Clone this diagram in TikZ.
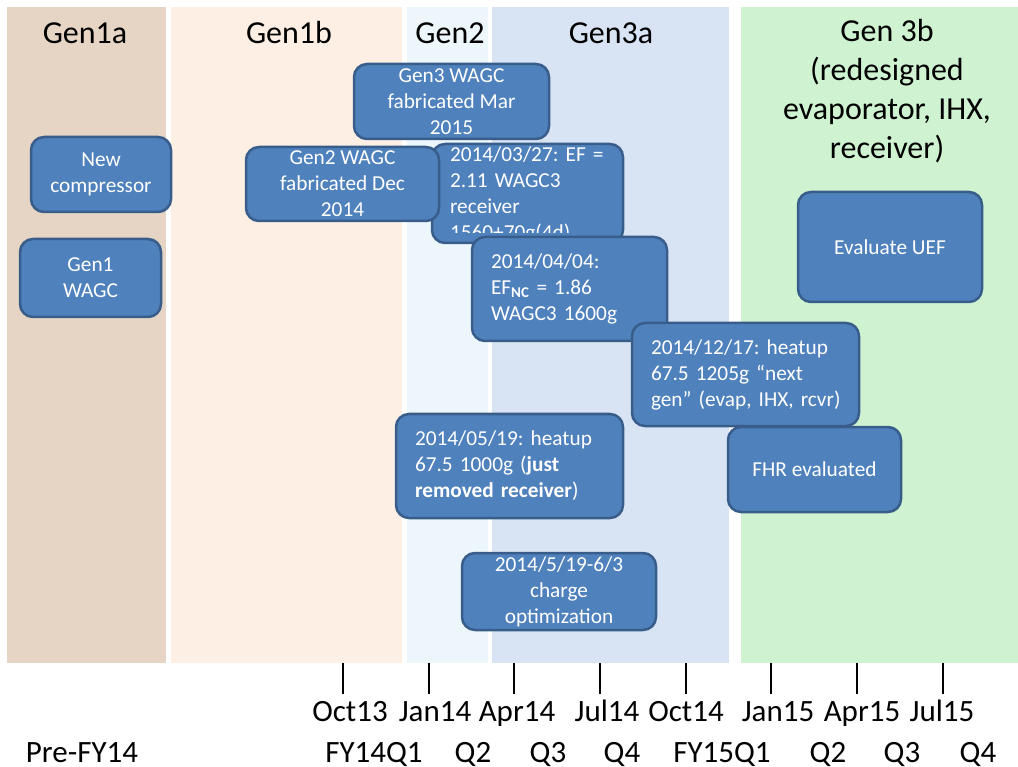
\documentclass[tikz,border=0pt]{standalone}
\usepackage{fontspec}
\setmainfont{Carlito}
\usetikzlibrary{positioning}
\definecolor{genIa}{RGB}{230,213,196}
\definecolor{genIb}{RGB}{253,239,228}
\definecolor{genII}{RGB}{237,246,250}
\definecolor{genIIIa}{RGB}{216,228,243}
\definecolor{genIIIb}{RGB}{207,243,208}
\definecolor{evfill}{RGB}{79,129,189}
\definecolor{evline}{RGB}{56,93,138}
\frenchspacing
\begin{document}
\begin{tikzpicture}[x=1pt,y=-1pt,
        title/.style={anchor=base, align=center, font=\fontsize{32}{39}\selectfont},
        axis/.style={anchor=base, font=\fontsize{31}{38}\selectfont},
        event/.style={draw=evline, fill=evfill, line width=2.5pt, rounded corners=13pt,
          text=white, font=\fontsize{21.3}{26}\selectfont, inner sep=0pt, align=center},
        eventl/.style={event, align=left, inner ysep=0pt}]
    \useasboundingbox (0,0) rectangle (1018,767);
    % generation bands
    \fill[genIa] (7,7) rectangle (166,663);
    \fill[genIb] (171,7) rectangle (402,663);
    \fill[genII] (407,7) rectangle (488,663);
    \fill[genIIIa] (492,7) rectangle (729,663);
    \fill[genIIIb] (741,7) rectangle (1018,663);
    \node[title] (t1a) at (85,44) {Gen1a};
    \node[title] (t1b) at (289,44) {Gen1b};
    \node[title] (t2) at (450,44) {Gen2};
    \node[title] (t3a) at (611,44) {Gen3a};
    \node[title] (t3b) at (887,159) {Gen 3b\\(redesigned\\evaporator, IHX,\\receiver)};
    % events
    \node[event, minimum width=195pt, minimum height=75pt] (gen3fab) at (451.5,101.5) {Gen3 WAGC\\fabricated Mar\\2015};
    \node[event, minimum width=140pt, minimum height=75pt] (newcomp) at (101,174.5) {New\\compressor};
    \node[event, minimum width=141pt, minimum height=78pt] (gen1) at (90.5,278) {Gen1\\WAGC};
    \node[eventl, text width=158pt, inner xsep=16.5pt, minimum height=99pt] (ef327) at (527.5,193.5) {};
    \begin{scope}
        \clip (432,144) rectangle (623,233);
        \node[eventl, draw=none, fill=none, text width=158pt, inner xsep=16.5pt] (ef327txt) at (529,195) {2014/03/27: EF =\\2.11 WAGC3\\receiver\\1560+70g(4d)};
    \end{scope}
    \node[event, minimum width=193pt, minimum height=74pt] (gen2fab) at (342.5,184) {Gen2 WAGC\\fabricated Dec\\2014};
    \node[eventl, text width=157pt, inner xsep=19pt, minimum height=104pt] (ef404) at (569.5,289) {2014/04/04:\\EF\textsubscript{\bfseries NC} = 1.86\\WAGC3 1600g};
    \node[eventl, text width=193pt, inner xsep=17pt, minimum height=103pt] (heat1217) at (745.5,374.5) {\hspace*{2pt}2014/12/17: heatup\\\hspace*{2pt}67.5 1205g “next\\\hspace*{2pt}gen” (evap, IHX, rcvr)};
    \node[event, minimum width=184pt, minimum height=110pt] (uef) at (890,247) {Evaluate UEF};
    \node[eventl, text width=189pt, inner xsep=19pt, minimum height=104pt] (heat519) at (509.5,466) {2014/05/19: heatup\\67.5 1000g (\textbf{just}\\\textbf{removed receiver})};
    \node[event, minimum width=173pt, minimum height=85pt] (fhr) at (814.5,469.5) {FHR evaluated};
    \node[event, minimum width=194pt, minimum height=77pt] (charge) at (559,591.5) {2014/5/19-6/3\\charge\\optimization};
    % time axis
    \foreach \x in {343,429,514,600,686,771,857,943}
        \draw[line width=1.5pt] (\x,663) -- (\x,694);
    \foreach \x/\lbl in {350/Oct13,435/Jan14,517/Apr14,607/Jul14,686/Oct14,778/Jan15,862/Apr15,942/Jul15}
        \node[axis] at (\x,721) {\lbl};
    \foreach \x/\lbl in {82/Pre-FY14,374/FY14Q1,473/Q2,548/Q3,622/Q4,722/FY15Q1,828/Q2,902/Q3,978/Q4}
        \node[axis] at (\x,762) {\lbl};
\end{tikzpicture}
\end{document}
